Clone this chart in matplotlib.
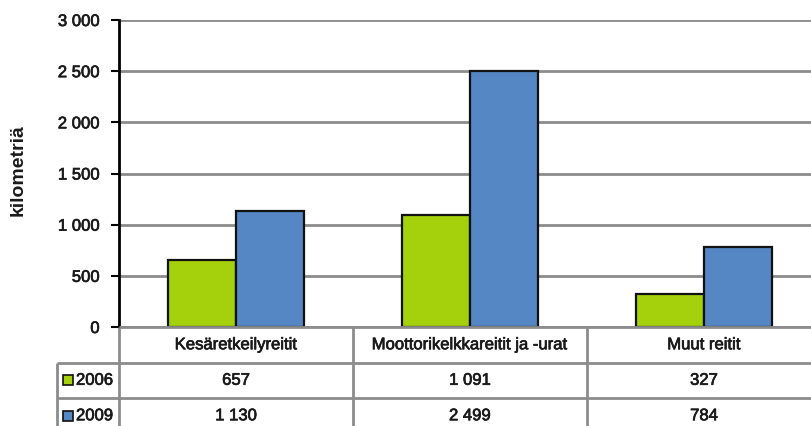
import matplotlib
matplotlib.use("Agg")
import matplotlib.pyplot as plt
from matplotlib.patches import Rectangle
import matplotlib.patheffects as pe
from matplotlib import font_manager

names = {f.name for f in font_manager.fontManager.ttflist}
narrow = "Liberation Sans Narrow" if "Liberation Sans Narrow" in names else "Liberation Sans"
fs = 14.5 if narrow == "Liberation Sans Narrow" else 12
plt.rcParams['font.family'] = [narrow, 'DejaVu Sans']

categories = ["Kesäretkeilyreitit", "Moottorikelkkareitit ja -urat", "Muut reitit"]
series_names = ["2006", "2009"]
values_2006 = [657, 1091, 327]
values_2009 = [1130, 2499, 784]
yticks = [0, 500, 1000, 1500, 2000, 2500, 3000]
ylabel = "kilometriä"

colors = ["#A4D00C", "#5487C4"]
grid_color = "#8c8c8c"
text_color = "#1a1a1a"
thick = [pe.withStroke(linewidth=0.5, foreground=text_color)]

def fmt(v):
    return f"{v:,}".replace(",", " ")

W, H = 811, 426
fig = plt.figure(figsize=(W / 100, H / 100), dpi=100)

# pixel layout
ax_left, ax_right = 119, 821
ax_top, ax_bottom = 20, 327
row_h = 35.5

ax = fig.add_axes([ax_left / W, 1 - ax_bottom / H, (ax_right - ax_left) / W, (ax_bottom - ax_top) / H])
n = len(categories)
xs = list(range(n))
bw = 0.29
all_vals = [values_2006, values_2009]
for k, vals in enumerate(all_vals):
    off = (k - 0.5) * bw
    ax.bar([x + off for x in xs], vals, width=bw, color=colors[k], edgecolor="#111111",
           linewidth=1.6, zorder=3)

ax.set_xlim(-0.5, n - 0.5)
ax.set_ylim(0, 3000)
ax.set_yticks(yticks)
ax.set_yticklabels([fmt(v) for v in yticks], fontsize=fs, color=text_color)
for t in ax.get_yticklabels():
    t.set_path_effects(thick)
ax.set_xticks([])
ax.yaxis.grid(True, color=grid_color, linewidth=2, zorder=0)
ax.set_axisbelow(True)
for s in ["top", "right", "bottom"]:
    ax.spines[s].set_visible(False)
ax.spines["left"].set_color("black")
ax.spines["left"].set_linewidth(2)
ax.spines["left"].set_zorder(4)
ax.tick_params(axis="y", direction="out", length=6, width=1.5, color="black", pad=8)
fig.text(18 / W, 1 - 170 / H, ylabel, rotation=90, fontsize=14, fontweight="bold",
         ha="center", va="center", color=text_color, family=["Liberation Sans", "DejaVu Sans"])

# table axes
nrows = 1 + len(series_names)
tax = fig.add_axes([ax_left / W, 1 - (ax_bottom + nrows * row_h) / H,
                    (ax_right - ax_left) / W, nrows * row_h / H])
tax.set_xlim(-0.5, n - 0.5)
tax.set_ylim(nrows, 0)
tax.axis("off")

col_w_px = (ax_right - ax_left) / n
def px2x(px):
    return (px - ax_left) / col_w_px - 0.5

left_edge = px2x(57)
lkw = dict(color=grid_color, linewidth=2, clip_on=False, solid_capstyle="butt")
tax.plot([-0.5, n - 0.5], [0, 0], **lkw)
for r in range(1, nrows):
    tax.plot([left_edge, n - 0.5], [r, r], **lkw)
for c in range(n):
    tax.plot([c - 0.5, c - 0.5], [0, nrows], **lkw)
tax.plot([left_edge, left_edge], [1, nrows], **lkw)

tkw = dict(fontsize=fs, color=text_color, path_effects=thick)
for i, cat in enumerate(categories):
    tax.text(i, 0.5, cat, ha="center", va="center", **tkw)
for k, (name, vals) in enumerate(zip(series_names, all_vals)):
    r = k + 1.5
    for i, v in enumerate(vals):
        tax.text(i, r, fmt(v), ha="center", va="center", **tkw)
    sq_w = px2x(73) - px2x(63)
    tax.add_patch(Rectangle((px2x(63), r - 5 / row_h), sq_w, 10 / row_h,
                            facecolor=colors[k], edgecolor="#111111", linewidth=1.2,
                            clip_on=False))
    tax.text(px2x(76), r, name, ha="left", va="center", **tkw)

fig.savefig("out.png", dpi=100)
